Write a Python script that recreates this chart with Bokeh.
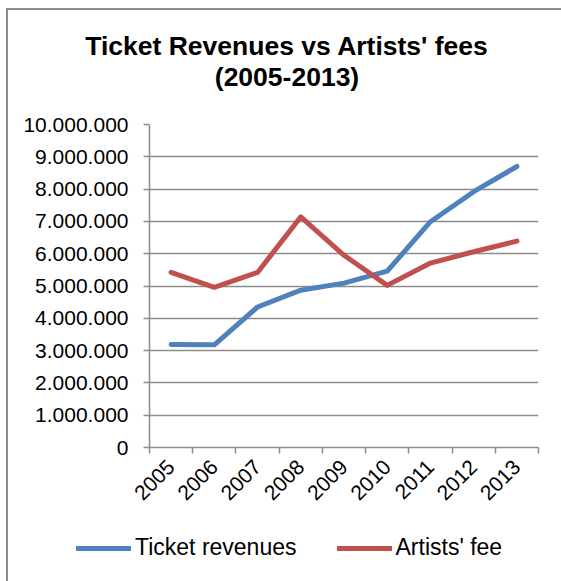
import math
from bokeh.plotting import figure
from bokeh.layouts import column
from bokeh.models import Range1d, FixedTicker, Legend, LegendItem, LinearAxis, Label
from bokeh.embed import file_html
from bokeh.resources import INLINE

# ---- data ----
years = ["2005", "2006", "2007", "2008", "2009", "2010", "2011", "2012", "2013"]
ticket_revenues = [3190000, 3180000, 4350000, 4870000, 5090000, 5460000, 6990000, 7920000, 8700000]
artists_fee = [5420000, 4960000, 5420000, 7140000, 5950000, 5020000, 5710000, 6060000, 6390000]
y_ticks = [0, 1000000, 2000000, 3000000, 4000000, 5000000, 6000000, 7000000, 8000000, 9000000, 10000000]
y_tick_labels = ["0", "1.000.000", "2.000.000", "3.000.000", "4.000.000", "5.000.000",
                 "6.000.000", "7.000.000", "8.000.000", "9.000.000", "10.000.000"]
title_lines = ["Ticket Revenues vs Artists' fees", "(2005-2013)"]
series_names = ["Ticket revenues", "Artists' fee"]

FONT = "Liberation Sans"
GRID = "#8c8c8c"
BLUE = "#4f81bd"
RED = "#c0504d"
W = 553


def strip(height):
    f = figure(width=W, height=height, output_backend="svg", toolbar_location=None, title=None,
               x_range=Range1d(0, W), y_range=Range1d(0, height),
               x_axis_location=None, y_axis_location=None,
               min_border_left=0, min_border_right=0, min_border_top=0, min_border_bottom=0)
    try:
        f.frame_align = False
    except Exception:
        pass
    f.outline_line_color = None
    f.grid.visible = False
    f.background_fill_color = "white"
    f.border_fill_color = "white"
    return f


# ---- title strip ----
tp = strip(90)
for txt, yb in zip(title_lines, [55, 24]):
    tp.add_layout(Label(x=278.5, y=yb, text=txt, text_align="center", text_baseline="alphabetic",
                        text_font=FONT, text_font_style="bold", text_font_size="26.5px",
                        text_color="black"))

# ---- main chart ----
x_centers = [i + 0.5 for i in range(len(years))]
x_bounds = [i for i in range(len(years) + 1)]

p = figure(width=W, height=421, output_backend="svg", toolbar_location=None, title=None,
           x_range=Range1d(0, len(years)), y_range=Range1d(y_ticks[0], y_ticks[-1]),
           x_axis_location=None, y_axis_location=None,
           min_border_left=141, min_border_right=23, min_border_top=24, min_border_bottom=74)
p.outline_line_color = None
p.background_fill_color = "white"
p.border_fill_color = "white"

yaxis = LinearAxis(ticker=FixedTicker(ticks=y_ticks),
                   major_label_overrides={t: s for t, s in zip(y_ticks, y_tick_labels)})
yaxis.axis_line_color = GRID
yaxis.axis_line_width = 1.5
yaxis.major_tick_line_color = GRID
yaxis.major_tick_line_width = 1.5
yaxis.major_tick_in = 0
yaxis.major_tick_out = 6
yaxis.minor_tick_line_color = None
yaxis.major_label_text_font = FONT
yaxis.major_label_text_font_size = "21px"
yaxis.major_label_text_color = "black"
yaxis.major_label_standoff = 15
p.add_layout(yaxis, "left")

xaxis = LinearAxis(ticker=FixedTicker(ticks=x_centers, minor_ticks=x_bounds),
                   major_label_overrides={c: y for c, y in zip(x_centers, years)})
xaxis.axis_line_color = GRID
xaxis.axis_line_width = 1.5
xaxis.major_tick_line_color = None
xaxis.minor_tick_line_color = GRID
xaxis.minor_tick_line_width = 1.5
xaxis.minor_tick_in = 0
xaxis.minor_tick_out = 6
xaxis.major_label_orientation = math.pi / 4
xaxis.major_label_text_font = FONT
xaxis.major_label_text_font_size = "21px"
xaxis.major_label_text_color = "black"
xaxis.major_label_standoff = 10
p.add_layout(xaxis, "below")

p.xgrid.visible = False
p.ygrid.ticker = FixedTicker(ticks=y_ticks)
p.ygrid.grid_line_color = GRID
p.ygrid.grid_line_width = 1.5

p.line(x_centers, ticket_revenues, line_color=BLUE, line_width=5,
       line_cap="round", line_join="round")
p.line(x_centers, artists_fee, line_color=RED, line_width=5,
       line_cap="round", line_join="round")

# ---- legend strip ----
lp = strip(60)
lp.x_range = Range1d(-2, -1)
lp.y_range = Range1d(-2, -1)
l1 = lp.line(x_centers, ticket_revenues, line_color=BLUE, line_width=5, line_cap="round")
l2 = lp.line(x_centers, artists_fee, line_color=RED, line_width=5, line_cap="round")
legend = Legend(items=[LegendItem(label=series_names[0], renderers=[l1]),
                       LegendItem(label=series_names[1], renderers=[l2])],
                location=(68, 20), orientation="horizontal",
                border_line_color=None, background_fill_alpha=0,
                glyph_width=55, glyph_height=20, label_standoff=4, spacing=40,
                label_text_font=FONT, label_text_font_size="23px", label_text_color="black",
                padding=0, margin=0)
lp.add_layout(legend)

layout = column(tp, p, lp, spacing=0)
layout.styles = {"margin-left": "6px", "margin-top": "8px",
                 "border-left": "2px solid #8c8c8c", "border-top": "2px solid #8c8c8c"}

open("out.html", "w").write(file_html(layout, INLINE))
